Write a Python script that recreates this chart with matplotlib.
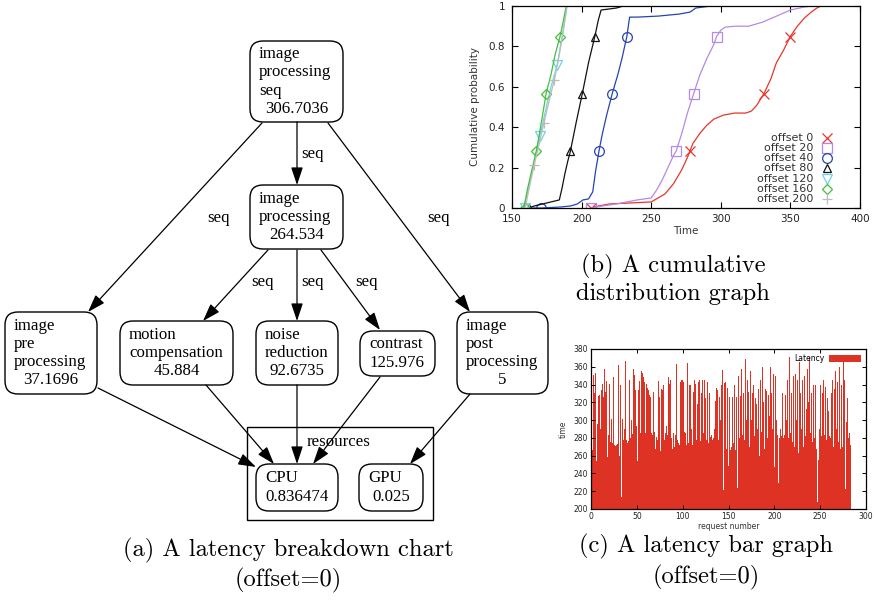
import numpy as np
import matplotlib
matplotlib.use('Agg')
import matplotlib.pyplot as plt
from matplotlib.patches import FancyBboxPatch, Rectangle

# ---- data: (a) latency breakdown diagram ----
node_names = ['top', 'mid', 'pre', 'motion', 'noise', 'contrast', 'post', 'cpu', 'gpu']
node_text = [['image', 'processing', 'seq'], ['image', 'processing'], ['image', 'pre', 'processing'],
             ['motion', 'compensation'], ['noise', 'reduction'], ['contrast'],
             ['image', 'post', 'processing'], ['CPU'], ['GPU']]
node_values = ['306.7036', '264.534', '37.1696', '45.884', '92.6735', '125.976', '5', '0.836474', '0.025']
edges = [('top', 'mid'), ('top', 'pre'), ('top', 'post'), ('mid', 'motion'), ('mid', 'noise'),
         ('mid', 'contrast'), ('pre', 'cpu'), ('motion', 'cpu'), ('noise', 'cpu'), ('contrast', 'cpu'),
         ('post', 'gpu')]
edge_labels = ['seq', 'seq', 'seq', 'seq', 'seq', 'seq', '', '', '', '', '']

# ---- data: (b) cumulative distribution ----
offsets = [0, 20, 40, 80, 120, 160, 200]
off0_t = [207, 212, 220, 235, 250, 255, 260, 266, 272, 276, 280, 285, 290, 295, 302, 310, 318, 322, 326,
          331, 336, 340, 345, 350, 355, 360, 365, 369, 372]
off0_p = [0, 0.01, 0.02, 0.025, 0.03, 0.05, 0.07, 0.12, 0.19, 0.25, 0.32, 0.37, 0.41, 0.44, 0.46, 0.47,
          0.47, 0.48, 0.51, 0.566, 0.64, 0.72, 0.78, 0.85, 0.9, 0.94, 0.97, 0.99, 1.0]
off20_t = [207, 215, 225, 240, 250, 254, 258, 262, 266, 268, 272, 276, 280.5, 285, 290, 295, 297, 300,
           303, 310, 320, 330, 340, 350, 360, 366]
off20_p = [0, 0.01, 0.02, 0.04, 0.05, 0.09, 0.14, 0.2, 0.26, 0.283, 0.37, 0.47, 0.566, 0.66, 0.74, 0.81,
           0.849, 0.88, 0.895, 0.9, 0.9, 0.92, 0.95, 0.98, 0.995, 1.0]
off40_t = [163, 171, 185, 192, 197, 201, 205, 208, 210, 212.5, 215, 218, 222, 226, 229, 232.5, 234.5,
           240, 255, 270, 278, 282, 293]
off40_p = [0, 0, 0.005, 0.01, 0.02, 0.04, 0.045, 0.08, 0.18, 0.283, 0.37, 0.46, 0.566, 0.66, 0.74, 0.849,
           0.945, 0.945, 0.95, 0.96, 0.97, 0.99, 1.0]
off80_t = [162, 166, 172, 178, 184, 186, 188, 190, 192, 196, 200.5, 205, 209.5, 212, 214, 225, 230]
off80_p = [0, 0.01, 0.02, 0.03, 0.04, 0.1, 0.17, 0.23, 0.283, 0.42, 0.566, 0.72, 0.849, 0.93, 0.98, 0.99, 1.0]
off120_t = [158.5, 162, 166, 170, 174, 178, 182.5, 186, 189.5]
off120_p = [0, 0.1, 0.23, 0.357, 0.48, 0.6, 0.707, 0.85, 1.0]
off160_t = [158.5, 161, 164, 167.5, 171, 174.5, 178, 181, 184.5, 187, 189]
off160_p = [0, 0.09, 0.18, 0.283, 0.42, 0.566, 0.66, 0.76, 0.849, 0.93, 1.0]
off200_t = [159.5, 163, 166, 169, 173, 177, 180.5, 184, 187, 189.5]
off200_p = [0, 0.12, 0.214, 0.3, 0.423, 0.54, 0.636, 0.76, 0.88, 1.0]

# marker points
mk0_t, mk0_p = [207, 278, 331, 349.5], [0, 0.283, 0.566, 0.849]
mk20_t, mk20_p = [207, 268, 280.5, 297], [0, 0.283, 0.566, 0.849]
mk40_t, mk40_p = [171, 212.5, 222, 232.5], [0, 0.283, 0.566, 0.849]
mk80_t, mk80_p = [162, 192, 200.5, 209.5], [0, 0.283, 0.566, 0.849]
mk120_t, mk120_p = [159.5, 170, 182.5], [0, 0.357, 0.707]
mk160_t, mk160_p = [159.5, 167.5, 174.5, 184.5], [0, 0.283, 0.566, 0.849]
mk200_t, mk200_p = [161, 166, 173, 180.5], [0, 0.214, 0.423, 0.636]

# ---- data: (c) latency per request ----
latency = [356, 266, 351, 331, 353, 254, 281, 296, 327, 328, 290,
           334, 341, 326, 358, 332, 344, 258, 330, 283, 341, 275,
           301, 274, 348, 272, 271, 272, 273, 362, 251, 260, 340,
           214, 301, 278, 290, 366, 278, 274, 277, 345, 282, 280,
           300, 284, 358, 351, 334, 293, 254, 334, 344, 285, 330,
           355, 353, 349, 343, 285, 341, 336, 334, 328, 326, 285,
           281, 283, 332, 287, 267, 281, 278, 344, 326, 265, 335,
           334, 289, 340, 278, 285, 293, 283, 349, 341, 345, 280,
           268, 285, 289, 270, 283, 363, 278, 274, 272, 343, 345,
           345, 343, 287, 274, 285, 272, 364, 274, 340, 340, 290,
           272, 332, 345, 341, 289, 278, 318, 343, 345, 276, 330,
           345, 285, 345, 325, 278, 289, 343, 274, 330, 281, 283,
           278, 280, 290, 321, 336, 334, 335, 278, 326, 300, 340,
           356, 221, 342, 343, 268, 336, 248, 341, 326, 266, 270,
           326, 274,
           340, 266, 326, 224, 350, 280, 288, 327, 358, 283,
           330, 278, 369, 300, 345, 332, 270, 355, 285, 300,
           330, 340, 282, 325, 318, 290, 335, 260, 345, 287,
           280, 360, 320, 268, 335, 333, 280, 328, 305, 360,
           330, 290, 340, 352, 247, 350, 300, 283, 229, 280,
           290, 282, 330, 280, 340, 283, 328, 300, 345, 280,
           371, 285, 330, 275, 350, 270, 345, 352, 300, 345,
           263, 365, 330, 290, 345, 270, 350, 282, 340, 312,
           358, 320, 371, 285, 330, 275, 340, 280, 340, 268,
           275, 208, 255, 290, 340, 282, 330, 345, 283, 337,
           278, 325, 285, 310, 282, 280, 330, 345, 270, 335,
           355, 290, 343, 275, 330, 360, 268, 340, 270, 367,
           345, 223, 298, 325, 280, 285, 275, 272]
requests = np.arange(len(latency))

# ---- layout (pixel coordinates of the 874x604 canvas) ----
W, H = 874, 604
box = {'top': (250, 41, 343, 122), 'mid': (250, 185, 343, 249), 'pre': (5, 312, 97, 394),
       'motion': (120, 321, 233, 385), 'noise': (256, 321, 338, 385), 'contrast': (360, 331, 435, 376),
       'post': (457, 312, 548, 394), 'cpu': (256, 464, 338, 511), 'gpu': (359, 464, 423, 511)}
edge_xy = {('top', 'mid'): ((297, 122), (297, 185)), ('top', 'pre'): ((262, 123), (88, 312)),
           ('top', 'post'): ((328, 123), (470, 312)), ('mid', 'motion'): ((268, 250), (203, 321)),
           ('mid', 'noise'): ((297, 250), (297, 321)), ('mid', 'contrast'): ((321, 250), (380, 330)),
           ('pre', 'cpu'): ((98, 388), (256, 467)), ('motion', 'cpu'): ((206, 385), (274, 464)),
           ('noise', 'cpu'): ((297, 385), (297, 464)), ('contrast', 'cpu'): ((380, 377), (313, 464)),
           ('post', 'gpu'): ((470, 394), (410, 464))}
label_xy = [(312, 154), (218, 218), (439, 218), (263, 282), (312, 282), (367, 282)]

fig = plt.figure(figsize=(8.74, 6.04), dpi=100)

# (a) diagram
ax = fig.add_axes([0, 0, 1, 1])
ax.set_xlim(0, W)
ax.set_ylim(H, 0)
ax.axis('off')
serif = 'Liberation Serif'
lsp = 18.2
for name, lines, val in zip(node_names, node_text, node_values):
    x0, y0, x1, y1 = box[name]
    ax.add_patch(FancyBboxPatch((x0, y0), x1 - x0, y1 - y0, boxstyle='round,pad=0,rounding_size=13',
                                fc='white', ec='black', lw=1.0))
    allines = lines + [val]
    n = len(allines)
    cy = (y0 + y1) / 2
    for i, t in enumerate(allines):
        y = cy + (i - (n - 1) / 2) * lsp
        if i < n - 1:
            ax.text(x0 + 9, y, t, ha='left', va='center', family=serif, fontsize=12.2)
        else:
            ax.text((x0 + x1) / 2, y, t, ha='center', va='center', family=serif, fontsize=12.2)
ax.add_patch(Rectangle((247, 427), 186, 93, fill=False, ec='black', lw=1.0))
ax.text(339, 442, 'resources', ha='center', va='center', family=serif, fontsize=12.2)
for e in edges:
    (sx, sy), (tx, ty) = edge_xy[e]
    ax.annotate('', xy=(tx, ty), xytext=(sx, sy),
                arrowprops=dict(arrowstyle='-|>,head_length=0.9,head_width=0.3', lw=0.9, color='black',
                                shrinkA=0, shrinkB=0, mutation_scale=12))
for lab, (lx, ly) in zip(edge_labels, label_xy):
    ax.text(lx, ly, lab, ha='center', va='center', family=serif, fontsize=12.2)

cm = 'cmr10'
ax.text(288, 550, '(a) A latency breakdown chart', ha='center', va='center', family=cm, fontsize=17.6)
ax.text(288, 580, '(offset=0)', ha='center', va='center', family=cm, fontsize=17.6)
ax.text(673, 266, '(b) A cumulative', ha='center', va='center', family=cm, fontsize=17.6)
ax.text(673, 294, 'distribution graph', ha='center', va='center', family=cm, fontsize=17.6)
ax.text(706, 546, '(c) A latency bar graph', ha='center', va='center', family=cm, fontsize=17.6)
ax.text(706, 577, '(offset=0)', ha='center', va='center', family=cm, fontsize=17.6)

# (b) CDF
bx = fig.add_axes([512 / W, (H - 208) / H, (860 - 512) / W, (208 - 6) / H])
curves = [(off0_t, off0_p, mk0_t, mk0_p), (off20_t, off20_p, mk20_t, mk20_p),
          (off40_t, off40_p, mk40_t, mk40_p), (off80_t, off80_p, mk80_t, mk80_p),
          (off120_t, off120_p, mk120_t, mk120_p), (off160_t, off160_p, mk160_t, mk160_p),
          (off200_t, off200_p, mk200_t, mk200_p)]
colors = ['#e8352a', '#b48ae6', '#2444b0', '#111111', '#6fd3e3', '#44c03a', '#bcbcbc']
markers = ['x', 's', 'o', '^', 'v', 'D', '+']
msizes = [7, 6.5, 7, 6, 6.5, 5, 7]
for (t, p, mt, mp), c, m, ms in zip(curves, colors, markers, msizes):
    bx.plot(t, p, color=c, lw=0.9)
    bx.plot(mt, mp, ls='none', marker=m, ms=ms, mfc='none', mec=c, mew=0.9)
for i, (off, c, m, ms) in enumerate(zip(offsets, colors, markers, msizes)):
    y = 0.348 - i * 0.0505
    bx.text(0.866, y, f'offset {off}', transform=bx.transAxes, ha='right', va='center', fontsize=8,
            color='#333333')
    bx.plot([0.904], [y], transform=bx.transAxes, ls='none', marker=m, ms=ms, mfc='none', mec=c, mew=0.9)
bx.set_xlim(150, 400)
bx.set_ylim(0, 1)
bx.set_xticks([150, 200, 250, 300, 350, 400])
bx.set_yticks([0, 0.2, 0.4, 0.6, 0.8, 1])
bx.set_yticklabels(['0', '0.2', '0.4', '0.6', '0.8', '1'])
bx.tick_params(direction='in', top=True, right=True, labelsize=7.5, length=4, width=0.8,
               labelcolor='#222222')
bx.tick_params(axis='y', pad=5)
bx.tick_params(axis='x', pad=4)
bx.set_xlabel('Time', fontsize=7.5, color='#333333', labelpad=2)
bx.set_ylabel('Cumulative probability', fontsize=7.5, color='#333333', labelpad=6)
for s in bx.spines.values():
    s.set_linewidth(0.9)

# (c) bar graph
cx = fig.add_axes([591 / W, (H - 509) / H, (866 - 591) / W, (509 - 349) / H])
cx.bar(requests, latency, width=1.0, align='edge', color='#dd3224', linewidth=0, label='Latency')
cx.set_xlim(0, 300)
cx.set_ylim(200, 380)
cx.set_xticks(range(0, 301, 50))
cx.set_yticks(range(200, 381, 20))
cx.tick_params(direction='in', top=True, right=True, labelsize=5.5, length=3, width=0.7,
               labelcolor='#222222', pad=2)
cx.set_xlabel('request number', fontsize=5.5, color='#333333', labelpad=1)
cx.set_ylabel('time', fontsize=5.5, color='#333333', labelpad=4)
cx.legend(loc='upper right', frameon=False, markerfirst=False, fontsize=5.5, handlelength=4.2,
          handleheight=1.1, borderaxespad=0.25, handletextpad=0.6)
for s in cx.spines.values():
    s.set_linewidth(0.9)

fig.savefig('out.png', dpi=100)
